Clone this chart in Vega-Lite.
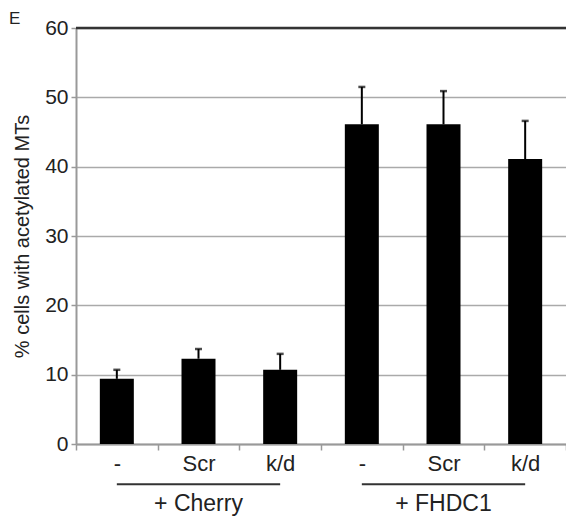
{
  "$schema": "https://vega.github.io/schema/vega-lite/v6.json",
  "autosize": "none",
  "width": 490,
  "height": 416,
  "padding": {"left": 76, "top": 28, "right": 0, "bottom": 77},
  "background": "white",
  "config": {
    "font": "Liberation Sans",
    "view": {"stroke": null}
  },
  "title": {
    "text": "E",
    "anchor": "start",
    "frame": "group",
    "dx": -67,
    "dy": 14,
    "offset": 3,
    "fontSize": 17,
    "fontWeight": "normal",
    "color": "#222"
  },
  "datasets": {
    "bars": [
      {"cond": "Cherry|-", "value": 9.4, "upper": 10.7},
      {"cond": "Cherry|Scr", "value": 12.3, "upper": 13.7},
      {"cond": "Cherry|k/d", "value": 10.7, "upper": 13.0},
      {"cond": "FHDC1|-", "value": 46.1, "upper": 51.5},
      {"cond": "FHDC1|Scr", "value": 46.1, "upper": 50.9},
      {"cond": "FHDC1|k/d", "value": 41.1, "upper": 46.6}
    ],
    "groups": [
      {"group": "+ Cherry", "start": "Cherry|-", "mid": "Cherry|Scr", "end": "Cherry|k/d"},
      {"group": "+ FHDC1", "start": "FHDC1|-", "mid": "FHDC1|Scr", "end": "FHDC1|k/d"}
    ]
  },
  "layer": [
    {
      "data": {"name": "bars"},
      "mark": {"type": "bar", "color": "black", "size": 34},
      "encoding": {
        "x": {
          "field": "cond",
          "type": "nominal",
          "sort": null,
          "scale": {"paddingInner": 0, "paddingOuter": 0},
          "axis": {
            "title": null,
            "labelAngle": 0,
            "labelExpr": "split(datum.label, '|')[1]",
            "labelFontSize": 22,
            "labelColor": "#222",
            "labelPadding": 3,
            "domainColor": "#999",
            "domainWidth": 2,
            "tickColor": "#999",
            "tickWidth": 1.5,
            "tickSize": 6,
            "tickBand": "extent",
            "grid": false
          }
        },
        "y": {
          "field": "value",
          "type": "quantitative",
          "scale": {"domain": [0, 60], "nice": false},
          "axis": {
            "title": "% cells with acetylated MTs",
            "titleFontSize": 20,
            "titleFontWeight": "normal",
            "titleColor": "#222",
            "titlePadding": 12,
            "values": [0, 10, 20, 30, 40, 50, 60],
            "labelFontSize": 21,
            "labelColor": "#222",
            "labelPadding": 3,
            "domainColor": "#999",
            "domainWidth": 2,
            "tickColor": "#999",
            "tickWidth": 1.5,
            "tickSize": 5,
            "grid": true,
            "gridColor": "#aaa",
            "gridWidth": 1.5
          }
        }
      }
    },
    {
      "data": {"name": "bars"},
      "mark": {"type": "rule", "color": "black", "strokeWidth": 2},
      "encoding": {
        "x": {"field": "cond", "type": "nominal", "sort": null},
        "y": {"field": "value", "type": "quantitative"},
        "y2": {"field": "upper"}
      }
    },
    {
      "data": {"name": "bars"},
      "mark": {"type": "tick", "color": "black", "size": 7, "thickness": 2.5},
      "encoding": {
        "x": {"field": "cond", "type": "nominal", "sort": null},
        "y": {"field": "upper", "type": "quantitative"}
      }
    },
    {
      "data": {"values": [{}]},
      "mark": {"type": "rule", "color": "#333", "strokeWidth": 2.5},
      "encoding": {"y": {"datum": 60}}
    },
    {
      "data": {"name": "groups"},
      "mark": {"type": "rule", "color": "#333", "strokeWidth": 2},
      "encoding": {
        "x": {"field": "start", "type": "nominal", "sort": null},
        "x2": {"field": "end"},
        "y": {"datum": -5.8}
      }
    },
    {
      "data": {"name": "groups"},
      "mark": {"type": "text", "fontSize": 23, "color": "#222", "baseline": "middle"},
      "encoding": {
        "x": {"field": "mid", "type": "nominal", "sort": null},
        "y": {"datum": -8.6},
        "text": {"field": "group"}
      }
    }
  ]
}
